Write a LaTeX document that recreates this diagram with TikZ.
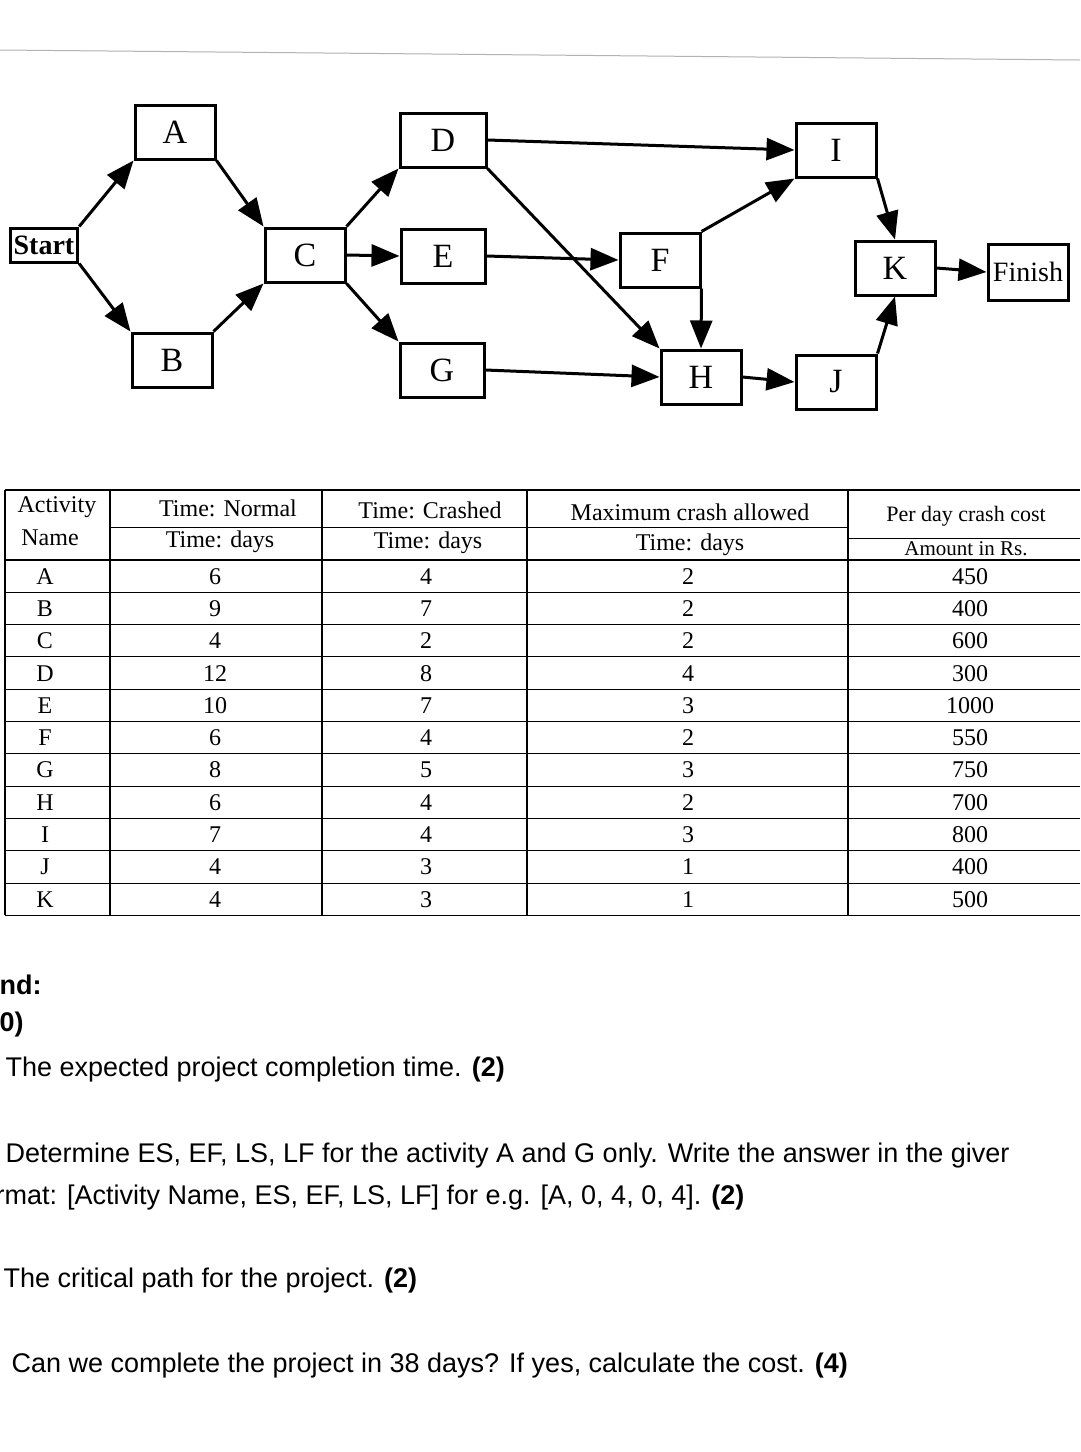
\documentclass[tikz,border=0pt]{standalone}
\usepackage{fontspec}
\setmainfont{Liberation Serif}
\setsansfont{Liberation Sans}
\usetikzlibrary{arrows.meta}
\begin{document}
\begin{tikzpicture}[x=1pt,y=-1pt,
  act/.style={draw,line width=3pt,minimum width=80pt,minimum height=54pt,font=\fontsize{34}{36}\selectfont},
  flow/.style={line width=3pt,-{Triangle[length=28pt,width=22pt]}},
  cell/.style={font=\fontsize{24}{26}\selectfont},
  q/.style={anchor=west,font=\sffamily\fontsize{27}{30}\selectfont}]
\useasboundingbox (0,0) rectangle (1080,1452);
\fill[white] (0,0) rectangle (1080,1452);
\draw[gray!60,line width=1pt] (0,50) -- (1080,60);
% nodes
\node[act,minimum width=66pt,minimum height=34pt,font=\fontsize{28}{30}\selectfont\bfseries] (st) at (44,245) {Start};
\node[act] (A) at (175,132) {A};
\node[act] (B) at (172,360) {B};
\node[act] (C) at (305,255) {C};
\node[act,minimum width=86pt] (D) at (443,140) {D};
\node[act,minimum width=84pt] (E) at (443,256) {E};
\node[act,minimum width=84pt] (G) at (442,370) {G};
\node[act] (F) at (660,260) {F};
\node[act] (H) at (701,377) {H};
\node[act] (I) at (836,150) {I};
\node[act] (J) at (836,382) {J};
\node[act] (K) at (895,268) {K};
\node[act,minimum width=80pt,minimum height=56pt,font=\fontsize{28}{30}\selectfont] (fin) at (1028,272) {Finish};
% edges
\draw[flow] (st.north east) -- (A.south west);
\draw[flow] (st.south east) -- (B.north west);
\draw[flow] (A.south east) -- (C.north west);
\draw[flow] (B.north east) -- (C.south west);
\draw[flow] (C.east) -- (E.west);
\draw[flow] (C.north east) -- (D.south west);
\draw[flow] (C.south east) -- (G.north west);
\draw[flow] (D.east) -- (I.west);
\draw[flow] (D.south east) -- (H.north west);
\draw[flow] (E.east) -- (F.west);
\draw[flow] (G.east) -- (H.west);
\draw[flow] (F.north east) -- (I.south west);
\draw[flow] (F.south east) -- (H.north);
\draw[flow] (H.east) -- (J.west);
\draw[flow] (I.south east) -- (K.north);
\draw[flow] (J.north east) -- (K.south);
\draw[flow] (K.east) -- (fin.west);
% table
\def\rowh{32.3}
\draw[line width=1.2pt] (5,490) -- (1080,490);
\draw[line width=1.2pt] (5,560) -- (1080,560);
\foreach \i in {1,...,11} \draw[line width=1pt] (5,560+\i*\rowh) -- (1080,560+\i*\rowh);
\foreach \x in {5,110,322,527,848} \draw[line width=1.2pt] (\x,490) -- (\x,915);
\draw[line width=1pt] (110,527) -- (848,527);
\draw[line width=1pt] (848,538) -- (1080,538);
\node[cell] (h1) at (57,507) {Activity};
\node[cell] (h1b) at (50,538) {Name};
\node[cell] (h2) at (228,508) {Time: Normal};
\node[cell] (h2b) at (220,542) {Time: days};
\node[cell] (h3) at (430,510) {Time: Crashed};
\node[cell] (h3b) at (428,543) {Time: days};
\node[cell] (h4) at (690,512) {Maximum crash allowed};
\node[cell] (h4b) at (690,545) {Time: days};
\node[cell,font=\fontsize{22}{24}\selectfont] (h5) at (966,516) {Per day crash cost};
\node[cell,font=\fontsize{21}{23}\selectfont] (h5b) at (966,549) {Amount in Rs.};
\foreach \a/\n/\c/\m/\p [count=\k] in {A/6/4/2/450,B/9/7/2/400,C/4/2/2/600,D/12/8/4/300,E/10/7/3/1000,F/6/4/2/550,G/8/5/3/750,H/6/4/2/700,I/7/4/3/800,J/4/3/1/400,K/4/3/1/500}{
  \node[cell] (ra\k) at (45,560+\k*\rowh-16) {\a};
  \node[cell] (rn\k) at (215,560+\k*\rowh-16) {\n};
  \node[cell] (rc\k) at (426,560+\k*\rowh-16) {\c};
  \node[cell] (rm\k) at (688,560+\k*\rowh-16) {\m};
  \node[cell] (rp\k) at (970,560+\k*\rowh-16) {\p};
}
% questions
\node[q,font=\sffamily\bfseries\fontsize{27}{30}\selectfont] (t1) at (-4,985) {nd:};
\node[q,font=\sffamily\bfseries\fontsize{27}{30}\selectfont] (t2) at (-4,1025) {0)};
\node[q] (q1) at (2,1070) {The expected project completion time. \textbf{(2)}};
\node[q] (q2) at (2,1156) {Determine ES, EF, LS, LF for the activity A and G only. Write the answer in the giver};
\node[q] (q2b) at (-8,1198) {rmat: [Activity Name, ES, EF, LS, LF] for e.g. [A, 0, 4, 0, 4]. \textbf{(2)}};
\node[q] (q3) at (0,1281) {The critical path for the project. \textbf{(2)}};
\node[q] (q4) at (8,1366) {Can we complete the project in 38 days? If yes, calculate the cost. \textbf{(4)}};
\end{tikzpicture}
\end{document}
